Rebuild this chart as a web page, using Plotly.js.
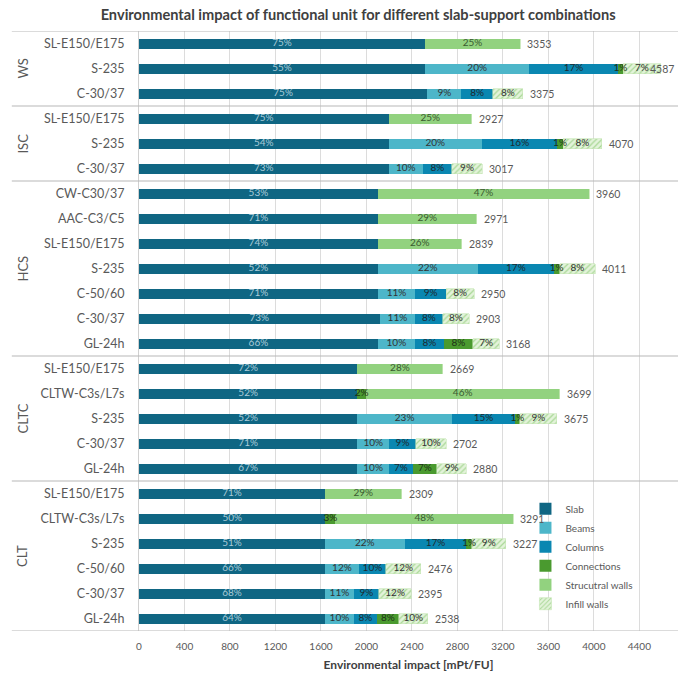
<!DOCTYPE html>
<html>
<head>
<meta charset="utf-8">
<script src="https://cdn.plot.ly/plotly-3.0.1.min.js"></script>
<style>html,body{margin:0;padding:0;background:#fff;}</style>
</head>
<body>
<div id="chart" style="width:690px;height:673px;"></div>
<script>
// ---- data (mPt/FU), rows listed top to bottom ----
const groups = ["WS","WS","WS","ISC","ISC","ISC","HCS","HCS","HCS","HCS","HCS","HCS","HCS",
  "CLTC","CLTC","CLTC","CLTC","CLTC","CLT","CLT","CLT","CLT","CLT","CLT"];
const labels = ["SL-E150/E175","S-235","C-30/37",
  "SL-E150/E175","S-235","C-30/37",
  "CW-C30/37","AAC-C3/C5","SL-E150/E175","S-235","C-50/60","C-30/37","GL-24h",
  "SL-E150/E175","CLTW-C3s/L7s","S-235","C-30/37","GL-24h",
  "SL-E150/E175","CLTW-C3s/L7s","S-235","C-50/60","C-30/37","GL-24h"];
const slab        = [2514,2514,2535, 2195,2195,2195, 2100,2100,2100,2100,2100,2115,2100, 1920,1920,1920,1920,1920, 1635,1640,1635,1635,1635,1635];
const beams       = [0,920,300, 0,820,302, 0,0,0,880,330,315,327, 0,0,832,280,278, 0,0,700,299,255,255];
const columns     = [0,775,277, 0,660,255, 0,0,0,668,270,240,254, 0,0,554,235,211, 0,0,545,237,220,202];
const connections = [0,50,0, 0,55,0, 0,0,0,50,0,0,255, 0,74,44,0,211, 0,85,45,0,0,194];
const structWalls = [839,0,0, 732,0,0, 1860,871,739,0,0,0,0, 749,1705,0,0,0, 674,1566,0,0,0,0];
const infillWalls = [0,328,263, 0,340,265, 0,0,0,313,250,233,232, 0,0,325,267,260, 0,0,302,305,285,252];
const seriesNames = ["Slab","Beams","Columns","Connections","Strucutral walls","Infill walls"];
const xTicks = [0,400,800,1200,1600,2000,2400,2800,3200,3600,4000,4400];

// ---- build ----
const FONT = "Lato, 'Open Sans', sans-serif";
const X_MAX = 4740;
const ids = labels.map((l,i)=>groups[i]+"|"+l);
const series = [slab,beams,columns,connections,structWalls,infillWalls];
const totals = labels.map((_,i)=>series.reduce((s,a)=>s+a[i],0));
const colors = ["#0f6683","#4db6c9","#0a87b1","#4a9a2f","#92d27f","#d6eecb"];
const textColors = ["#a9cbd8","#333333","#1e2a30","#1e3318","#3a5a30","#333333"];

const traces = series.map((vals,k)=>{
  const t = {
    type:"bar", orientation:"h", name:seriesNames[k],
    y:ids, x:vals,
    marker:{color:colors[k], line:{width:0}},
    hoverinfo:"skip"
  };
  if(k===5){
    t.marker = {color:"#d6eecb", line:{width:0.6,color:"#c4e6b4"},
      pattern:{shape:"/", bgcolor:"#e3f3da", fgcolor:"#a9d896", size:4, solidity:0.3}};
  }
  return t;
});
// percentage labels drawn on top of all bars
const cum = labels.map(()=>0);
series.forEach((vals,k)=>{
  const xs = [], ys = [], ts = [];
  vals.forEach((v,i)=>{
    if(v>0){ xs.push(cum[i]+v/2); ys.push(ids[i]); ts.push(Math.round(v/totals[i]*100)+"%"); }
    cum[i]+=v;
  });
  traces.push({type:"scatter", mode:"text", x:xs, y:ys, text:ts, textposition:"middle center",
    textfont:{size:10, color:textColors[k], family:FONT}, showlegend:false, hoverinfo:"skip", cliponaxis:false});
});

// group boundaries and labels
const groupNames = [], groupStart = [], groupEnd = [];
groups.forEach((g,i)=>{
  if(i===0 || groups[i-1]!==g){groupNames.push(g); groupStart.push(i);}
  groupEnd[groupNames.length-1] = i;
});
const shapes = [];
const bounds = groupStart.map(s=>s-0.5).concat([labels.length-0.5]);
bounds.forEach(b=>{
  shapes.push({type:"line", xref:"paper", yref:"y", x0:-0.236, x1:1, y0:b, y1:b,
    line:{color:"#b8b8b8", width:1.2}, layer:"above"});
});
const annotations = groupNames.map((g,j)=>({
  xref:"paper", yref:"y", x:-0.217, y:(groupStart[j]+groupEnd[j])/2,
  text:g, textangle:-90, showarrow:false, xanchor:"center", yanchor:"middle",
  font:{size:13, color:"#595959", family:FONT}
}));
// totals at bar ends (kept inside the chart when there is no room)
totals.forEach((v,i)=>{
  const fits = v < X_MAX - 300;
  annotations.push(fits ?
    {xref:"x", yref:"y", x:v, y:ids[i], text:String(v), showarrow:false,
     xanchor:"left", yanchor:"middle", xshift:5, font:{size:10.5, color:"#595959", family:FONT}} :
    {xref:"paper", yref:"y", x:1, y:ids[i], text:String(v), showarrow:false,
     xanchor:"right", yanchor:"middle", xshift:-2, font:{size:10.5, color:"#595959", family:FONT}});
});

const layout = {
  width:690, height:673,
  margin:{l:139, r:12, t:31, b:42},
  paper_bgcolor:"#ffffff", plot_bgcolor:"#ffffff",
  barmode:"stack", bargap:0.6,
  font:{family:FONT, color:"#595959"},
  title:{text:"Environmental impact of functional unit for different slab-support combinations",
    x:0.519, xref:"container", xanchor:"center", y:0.978, yref:"container", yanchor:"middle",
    font:{size:14.6, color:"#404040", family:FONT, weight:"bold"}},
  xaxis:{range:[0,X_MAX], tickvals:xTicks, ticktext:xTicks.map(String),
    showgrid:true, gridcolor:"#dcdcdc", gridwidth:1, zeroline:false,
    showline:false, ticks:"outside", ticklen:6, tickcolor:"rgba(0,0,0,0)",
    tickfont:{size:10, color:"#595959"},
    title:{text:"<b>Environmental impact [mPt/FU]</b>", standoff:9,
      font:{size:12, color:"#404040"}}, automargin:false, fixedrange:true},
  yaxis:{type:"category", range:[labels.length-0.5,-0.5], tickvals:ids, ticktext:labels,
    tickfont:{size:12.5, color:"#595959"}, ticks:"outside", ticklen:11, tickcolor:"rgba(0,0,0,0)",
    showgrid:false, showline:true, linecolor:"#d0d0d0", linewidth:1, automargin:false, fixedrange:true},
  legend:{x:0.717, y:0.228, xanchor:"left", yanchor:"top", traceorder:"normal",
    font:{size:10, color:"#595959"}, bgcolor:"rgba(255,255,255,0)", itemwidth:30, tracegroupgap:0},
  shapes:shapes, annotations:annotations
};

Plotly.newPlot("chart", traces, layout, {staticPlot:true, displayModeBar:false});
</script>
</body>
</html>
